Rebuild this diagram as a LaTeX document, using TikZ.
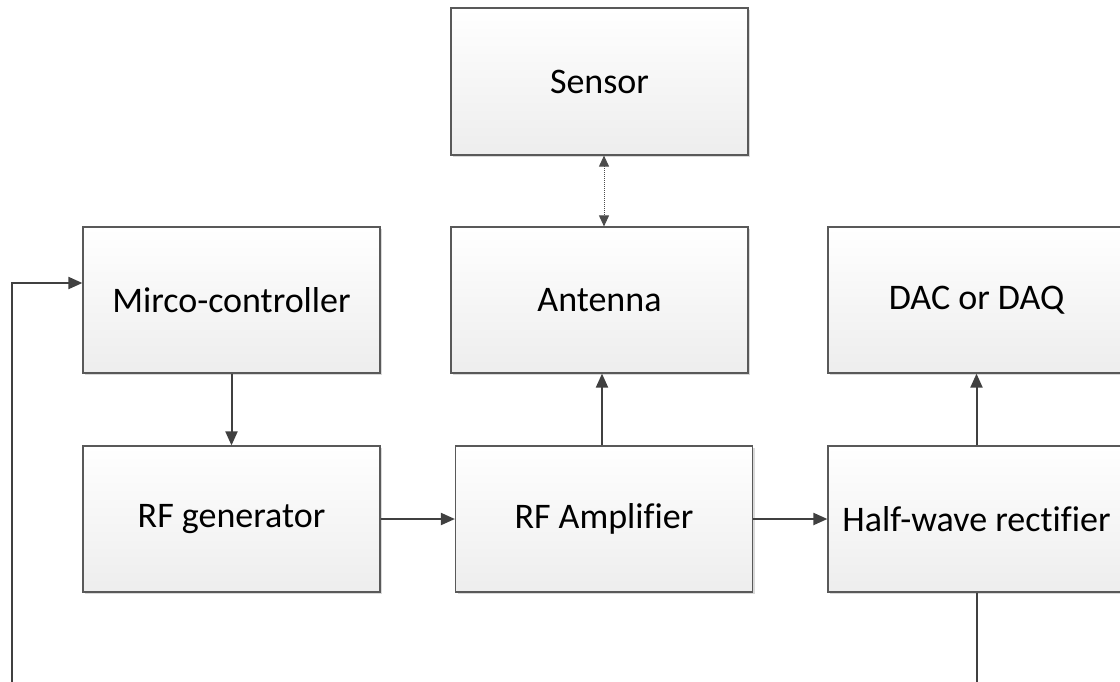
\documentclass[tikz,border=0pt]{standalone}
\usepackage{fontspec}
\setmainfont[Ligatures=CommonOff]{Carlito}
\usetikzlibrary{arrows.meta,shadows}

\begin{document}
\begin{tikzpicture}[x=1pt,y=-1pt,
	blk/.style={draw=black!65,line width=1.2pt,top color=white,bottom color=black!7,
		minimum width=297pt,minimum height=146pt,inner sep=0pt,
		font=\fontsize{36}{43}\selectfont,
		drop shadow={shadow xshift=2pt,shadow yshift=-2pt,fill=black!15,opacity=1}},
	conn/.style={draw=black!75,line width=2pt,-{Triangle[length=14pt,width=12pt]}}]
	\useasboundingbox (0,0) rectangle (1120,681);
	\clip (0,0) rectangle (1120,681);

	\node[blk,minimum height=147pt] (sen) at (599.5,81.5) {Sensor};
	\node[blk] (mc) at (231.5,300) {Mirco-controller};
	\node[blk] (ant) at (599.5,300) {Antenna};
	\node[blk] (dac) at (976.5,300) {DAC or DAQ};
	\node[blk] (rfg) at (231.5,519) {RF generator};
	\node[blk] (rfa) at (604,519) {RF Amplifier};
	\node[blk] (hwr) at (976.5,519) {Half-wave rectifier};

	\draw[black!70,line width=1pt,densely dotted,{Triangle[length=11pt,width=10pt]}-{Triangle[length=11pt,width=10pt]}]
		([xshift=4.5pt]sen.south) -- ([xshift=4.5pt]ant.north);
	\draw[conn] (mc.south) -- (rfg.north);
	\draw[conn] (rfg.east) -- (rfa.west);
	\draw[conn] ([xshift=-2pt]rfa.north) -- ([xshift=-2pt]rfa.north |- ant.south);
	\draw[conn] (rfa.east) -- (hwr.west);
	\draw[conn] (hwr.north) -- (dac.south);
	\draw[conn] (hwr.south) -- (976.5,700) -| (12,283) -- ([yshift=17pt]mc.west);
\end{tikzpicture}
\end{document}
